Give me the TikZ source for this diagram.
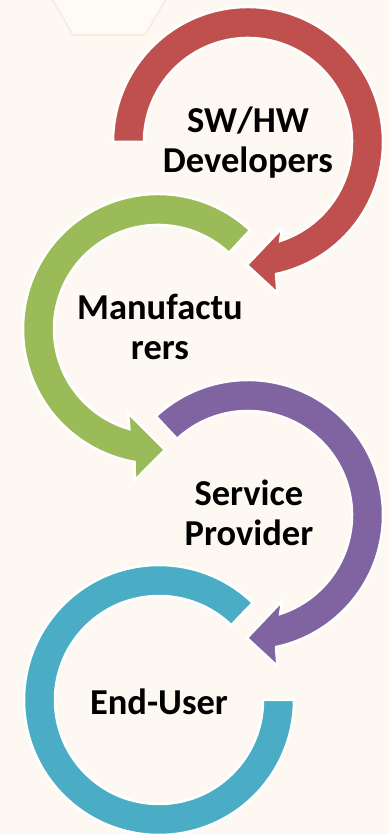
\documentclass[tikz,border=0pt]{standalone}
\usepackage{fontspec}
\setmainfont{Carlito}
\definecolor{bgcream}{RGB}{253,249,242}
\definecolor{hexline}{RGB}{242,237,221}
\definecolor{hexfill}{RGB}{254,251,246}
\definecolor{ringred}{RGB}{192,80,77}
\definecolor{ringgreen}{RGB}{155,187,89}
\definecolor{ringpurple}{RGB}{128,100,162}
\definecolor{ringcyan}{RGB}{75,172,198}

\begin{document}
\begin{tikzpicture}[x=1pt,y=1pt]
\tikzset{RingStyle/.style={draw=white,line width=2.5pt,line join=miter}}
\tikzset{LabelStyle/.style={font=\bfseries\fontsize{36.5}{40}\selectfont,align=center,text=black,inner sep=0pt}}
\fill[bgcream] (0,0) rectangle (389,834);
\useasboundingbox (0,0) rectangle (389,834);
\begin{scope}
\clip (0,0) rectangle (389,834);
\draw[hexline,fill=hexfill,line width=1.5pt] (181,861) -- (145,923) -- (73,923) -- (37,861) -- (73,799) -- (145,799) -- cycle;
\end{scope}
\coordinate (cred) at (248,692);
\coordinate (cgreen) at (158,505);
\coordinate (cpurple) at (248,319);
\coordinate (ccyan) at (159,134);
\draw[RingStyle,fill=ringcyan,shift={(ccyan)}] (46:135) arc[start angle=46,end angle=360,radius=135] -- (0:104) arc[start angle=360,end angle=46,radius=104] -- cycle;
\draw[RingStyle,fill=ringpurple,shift={(cpurple)}] (133:135) arc[start angle=133,end angle=-78,radius=135] -- (-79:154) -- (-90.5:123) -- (-68.4:92.5) -- (-72:104) arc[start angle=-72,end angle=133,radius=104] -- cycle;
\draw[RingStyle,fill=ringgreen,shift={(cgreen)}] (47:135) arc[start angle=47,end angle=260,radius=135] -- (261.3:153) -- (273.3:121) -- (250.3:89) -- (254:104) arc[start angle=254,end angle=47,radius=104] -- cycle;
\draw[RingStyle,fill=ringred,shift={(cred)}] (180:135) arc[start angle=180,end angle=-78,radius=135] -- (-79:154) -- (-90.5:123) -- (-68.4:92.5) -- (-72:104) arc[start angle=-72,end angle=180,radius=104] -- cycle;
\node[LabelStyle] (swhw) at (248,691) {SW/HW\\Developers};
\node[LabelStyle] (manuf) at (160,507) {Manufactu\\rers};
\node[LabelStyle] (service) at (249,321) {Service\\Provider};
\node[LabelStyle] (enduser) at (159,132) {End-User};
\end{tikzpicture}
\end{document}
